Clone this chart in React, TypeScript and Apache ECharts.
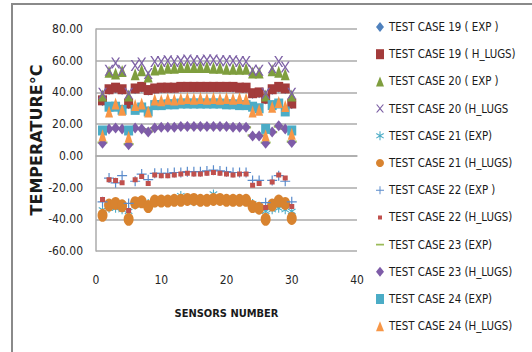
import React, { useEffect, useRef } from "react";
import * as echarts from "echarts";

const sensors = [1, 2, 3, 4, 5, 6, 7, 8, 9, 10, 11, 12, 13, 14, 15, 16, 17, 18, 19, 20, 21, 22, 23, 24, 25, 26, 27, 28, 29, 30];

const seriesNames = [
  "TEST CASE 19 ( EXP )",
  "TEST CASE 19 ( H_LUGS)",
  "TEST CASE 20 ( EXP )",
  "TEST CASE 20 (H_LUGS",
  "TEST CASE 21 (EXP)",
  "TEST CASE 21 (H_LUGS)",
  "TEST CASE 22 (EXP )",
  "TEST CASE 22 (H_LUGS)",
  "TEST CASE 23 (EXP)",
  "TEST CASE 23 (H_LUGS)",
  "TEST CASE 24 (EXP)",
  "TEST CASE 24 (H_LUGS)",
];

const tc19Exp = [34.5, 41.5, 42.5, 41.5, 32.5, 42, 43, 41, 42, 42.5, 42.5, 42.5, 43, 43, 43, 43, 43, 43, 43, 43, 43, 42.5, 42.5, 39, 39.5, 35.5, 41.5, 43, 42, 32.5];
const tc19HLugs = [35, 42, 43, 42, 33, 42.5, 43.5, 41.5, 42.5, 43, 43, 43, 43.5, 43.5, 43.5, 43.5, 43.5, 43.5, 43.5, 43.5, 43.5, 43, 43, 39.5, 40, 36, 42, 43.5, 42.5, 33];
const tc20Exp = [38, 53, 52, 53.5, 38, 51.5, 54, 50, 54.5, 55, 55.5, 55.5, 56, 56, 56, 56, 56, 55.5, 55.5, 55, 55, 55, 55, 52.5, 52.5, 38, 54, 53, 51.5, 38];
const tc20HLugs = [39.5, 54, 58.5, 54, 39.5, 57, 58.5, 52, 59.5, 59.5, 60, 59.5, 60, 60.5, 60, 60, 60.5, 60.5, 60, 60, 60, 59.5, 59.5, 54, 54, 39.5, 55.5, 59.5, 56, 39.5];
const tc21Exp = [-34, -33, -33, -34, -35, -31, -30, -30, -29.5, -29, -29, -29, -25, -28.5, -29, -29, -28.5, -24, -28, -28.5, -29, -29, -29, -30, -34, -35, -34, -33, -34, -35];
const tc21HLugs = [-37.5, -31, -30, -31.5, -40, -29.5, -29, -32, -28.5, -28.5, -28.5, -28, -28, -27.5, -27.5, -28, -28, -27.5, -27.5, -28, -28, -28, -28, -32, -33, -40, -31, -28.5, -30, -39.5];
const tc22Exp = [-29, -14, -17, -12.5, -30, -16, -11.5, -15, -11, -11, -11, -10.5, -10.5, -10, -10, -10, -9.5, -9, -9.5, -10, -10.5, -10.5, -10.5, -15.5, -15.5, -29.5, -15.5, -12.5, -16, -29];
const tc22HLugs = [-27.5, -15, -15.5, -17, -34.5, -15, -13, -17.5, -12, -12.5, -12.5, -12, -11.5, -11, -11.5, -11.5, -11, -10.5, -11, -11.5, -12, -11.5, -11.5, -18.5, -17.5, -32.5, -16.5, -12, -14, -32];
const tc23Exp = [8.5, 17, 17, 17, 7.5, 17, 17, 15.5, 17.5, 17.5, 18, 18, 18, 18, 18, 18, 18, 18, 18, 18, 18, 18, 18, 13, 13, 8.5, 15, 18.5, 17, 9];
const tc23HLugs = [8, 17, 17.5, 17, 7, 17.5, 17, 15, 17.5, 18, 18, 18, 18.5, 18.5, 18.5, 18.5, 18.5, 18.5, 18.5, 18.5, 18, 18, 18, 12.5, 12.5, 8, 15, 19, 17, 8.5];
const tc24Exp = [16, 31, 31, 29, 16, 29, 30.5, 28, 32, 32, 32.5, 32.5, 33, 33, 33, 33, 33, 33, 33, 32.5, 32.5, 32, 32, 31, 30, 17, 32, 33, 28, 16];
const tc24HLugs = [13, 28, 33, 29, 12, 32, 33, 28, 35.5, 35, 36, 35.5, 36, 36.5, 36, 36.5, 36, 36.5, 36, 36.5, 36, 36.5, 36, 28, 29, 13, 31, 34, 31.5, 14];

const yTicks = [-60, -40, -20, 0, 20, 40, 60, 80];
const xTicks = [0, 10, 20, 30, 40];

const FONT = "'DejaVu Sans Condensed', 'Liberation Sans', sans-serif";

const X_PATH = "path://M0,0L1.8,0L5,4L8.2,0L10,0L5.9,5L10,10L8.2,10L5,6L1.8,10L0,10L4.1,5Z";
const AST_PATH = "path://M4.4,0h1.2v3.9l3.3,-2l0.6,1l-3.4,2.1l3.4,2.1l-0.6,1l-3.3,-2v3.9h-1.2v-3.9l-3.3,2l-0.6,-1l3.4,-2.1l-3.4,-2.1l0.6,-1l3.3,2z";
const PLUS_PATH = "path://M4.4,0h1.2v4.4h4.4v1.2h-4.4v4.4h-1.2v-4.4h-4.4v-1.2h4.4z";
const DASH_PATH = "path://M0,0h0.01v0.01h-0.01zM0,4h10v2.2h-10zM9.99,9.99h0.01v0.01h-0.01z";
const SMALLSQ_PATH = "path://M0,0h0.01v0.01h-0.01zM2.5,2.5h5v5h-5zM9.99,9.99h0.01v0.01h-0.01z";

const seriesValues = [tc19Exp, tc19HLugs, tc20Exp, tc20HLugs, tc21Exp, tc21HLugs, tc22Exp, tc22HLugs, tc23Exp, tc23HLugs, tc24Exp, tc24HLugs];
const seriesStyles: any[] = [
  { symbol: "diamond", size: [7, 10], color: "#4F81BD" },
  { symbol: "rect", size: [9, 10], color: "#A33B3B" },
  { symbol: "triangle", size: [9, 12], color: "#7F9E3E" },
  { symbol: X_PATH, size: [9, 11], color: "#7E62A6" },
  { symbol: AST_PATH, size: [9, 9], color: "#4BACC6" },
  { symbol: "circle", size: [10, 13], color: "#D8832F" },
  { symbol: PLUS_PATH, size: [10, 10], color: "#5A8BCB" },
  { symbol: SMALLSQ_PATH, size: [10, 10], color: "#C0504D" },
  { symbol: DASH_PATH, size: [10, 10], color: "#9BBB59" },
  { symbol: "diamond", size: [9, 11], color: "#7E5CA8" },
  { symbol: "rect", size: [9, 10], color: "#4BACC6" },
  { symbol: "triangle", size: [8, 12], color: "#F79646" },
];

export default function App() {
  const ref = useRef<HTMLDivElement>(null);
  useEffect(() => {
    document.body.style.margin = "0";
    const chart = echarts.init(ref.current!, undefined, { renderer: "svg" });
    const series = seriesNames.map((name, i) => ({
      name,
      type: "scatter",
      data: sensors.map((s, j) => [s, seriesValues[i][j]]),
      symbol: seriesStyles[i].symbol,
      symbolSize: seriesStyles[i].size,
      symbolKeepAspect: true,
      itemStyle: { color: seriesStyles[i].color, opacity: 1 },
      emphasis: { disabled: true },
    }));
    chart.setOption({
      animation: false,
      graphic: [
        {
          type: "rect",
          shape: { x: 12, y: 4, width: 600, height: 420 },
          style: { fill: "none", stroke: "#8a8a8a", lineWidth: 2 },
          silent: true,
        },
      ],
      grid: { left: 96, right: 175, top: 29, bottom: 101 },
      legend: {
        orient: "vertical",
        left: 376,
        top: 19,
        padding: 0,
        itemWidth: 8,
        itemHeight: 10,
        itemGap: 11.2,
        data: seriesNames,
        textStyle: { fontFamily: FONT, fontSize: 11.4, lineHeight: 16, color: "#1a1a1a" },
      },
      xAxis: {
        type: "value",
        min: xTicks[0],
        max: xTicks[xTicks.length - 1],
        interval: 10,
        name: "SENSORS NUMBER",
        nameLocation: "middle",
        nameGap: 57,
        nameTextStyle: { fontFamily: FONT, fontSize: 11, fontWeight: "bold", color: "#1a1a1a" },
        axisLine: { show: true, lineStyle: { color: "#ababab", width: 1.5 } },
        axisTick: { show: false },
        splitLine: { show: false },
        axisLabel: { fontFamily: FONT, fontSize: 12, color: "#262626", margin: 23 },
      },
      yAxis: {
        type: "value",
        min: yTicks[0],
        max: yTicks[yTicks.length - 1],
        interval: 20,
        name: "TEMPERATURE°C",
        nameLocation: "middle",
        nameGap: 50,
        nameTextStyle: { fontFamily: "'DejaVu Sans', sans-serif", fontSize: 16, fontWeight: "bold", color: "#1a1a1a" },
        axisLine: { show: true, lineStyle: { color: "#ababab", width: 1.5 } },
        axisTick: { show: false },
        splitLine: { show: true, lineStyle: { color: "#ababab", width: 1.5 } },
        axisLabel: {
          fontFamily: FONT,
          fontSize: 12,
          color: "#262626",
          margin: 13,
          formatter: (v: number) => v.toFixed(2),
        },
      },
      series,
    });
    return () => chart.dispose();
  }, []);
  return <div ref={ref} style={{ width: 532, height: 352 }} />;
}
